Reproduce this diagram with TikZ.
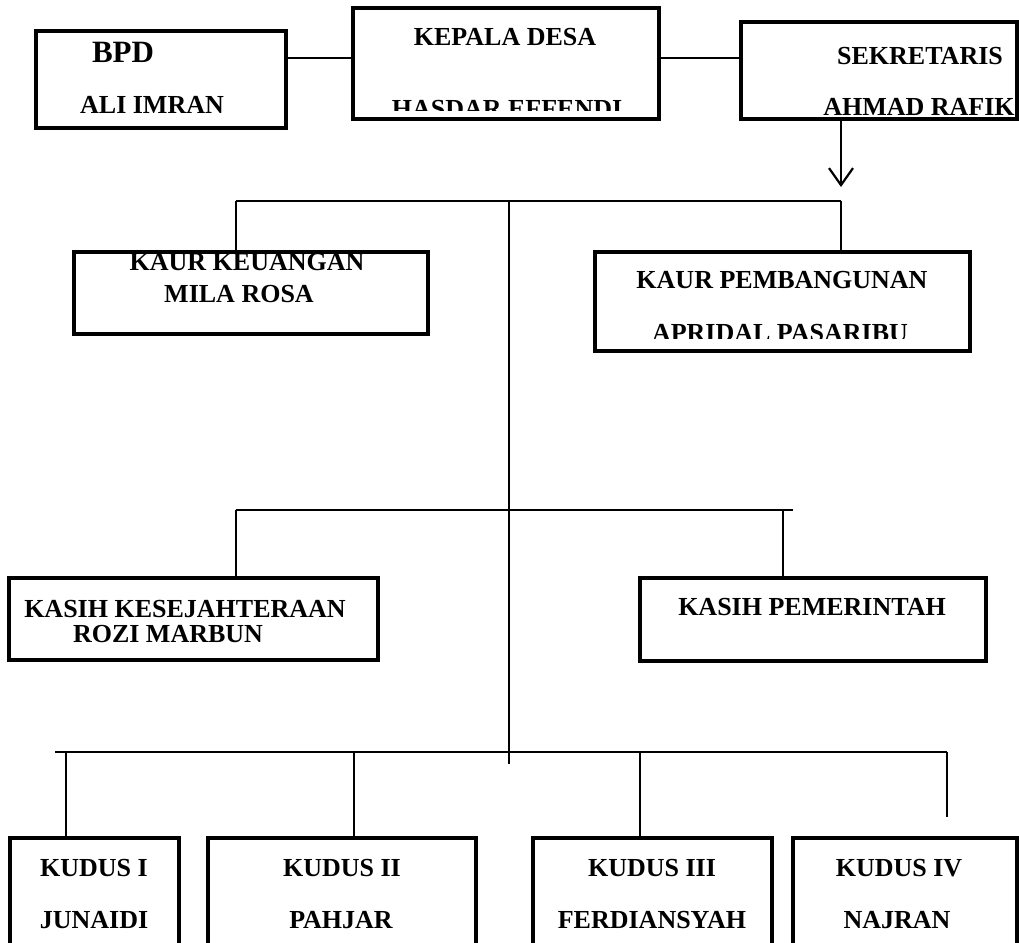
\documentclass[tikz,border=0pt]{standalone}
\usepackage{fontspec}
\setmainfont{Liberation Serif}
\usetikzlibrary{positioning, arrows.meta}

\tikzset{
  kotak/.style={draw, line width=3.3pt, inner sep=0pt},
  teks/.style={font=\bfseries\fontsize{26}{30}\selectfont, inner sep=0pt, anchor=base},
  garis/.style={line width=1.4pt},
  panah/.style={line width=2.2pt, -{Straight Barb[length=17pt, width=24pt, line width=2.2pt]}}
}

\begin{document}
\begin{tikzpicture}[x=1pt, y=-1pt]
        \clip (0,0) rectangle (1019,942);

        % Kotak jabatan
        \node[kotak, minimum width=250, minimum height=97] (bpd) at (161,79.5) {};
        \node[kotak, minimum width=306, minimum height=111] (kades) at (506,63.5) {};
        \node[kotak, minimum width=276, minimum height=97] (sekdes) at (879,70.5) {};
        \node[kotak, minimum width=354, minimum height=82] (keu) at (251,293) {};
        \node[kotak, minimum width=375, minimum height=99] (pemb) at (782.5,301.5) {};
        \node[kotak, minimum width=369, minimum height=82] (kesra) at (193.5,619) {};
        \node[kotak, minimum width=346, minimum height=83] (pem) at (813,619.5) {};
        \node[kotak, minimum width=169, minimum height=162] (k1) at (94.5,919) {};
        \node[kotak, minimum width=268, minimum height=162] (k2) at (342,919) {};
        \node[kotak, minimum width=239, minimum height=162] (k3) at (652.5,919) {};
        \node[kotak, minimum width=224, minimum height=162] (k4) at (905,919) {};

        % Teks
        \node[teks, font=\bfseries\fontsize{31}{34}\selectfont] (tbpd) at (123,63) {BPD};
        \node[teks] (tali) at (152,113) {ALI IMRAN};
        \node[teks] (tkades) at (505,46) {KEPALA DESA};
        \begin{scope}
          \clip (380,90) rectangle (640,110);
          \node[teks] (thasdar) at (507,117) {HASDAR EFFENDI};
        \end{scope}
        \node[teks] (tsek) at (920,64) {SEKRETARIS};
        \node[teks] (tahmad) at (919,115) {AHMAD RAFIK};
        \begin{scope}
          \clip (100,254) rectangle (400,285);
          \node[teks] (tkeu) at (247,270) {KAUR KEUANGAN};
        \end{scope}
        \node[teks] (tmila) at (239,302) {MILA ROSA};
        \node[teks] (tpemb) at (782,288) {KAUR PEMBANGUNAN};
        \begin{scope}
          \clip (620,315) rectangle (940,338);
          \node[teks] (tapri) at (780,341) {APRIDAL PASARIBU};
        \end{scope}
        \node[teks] (tkesra) at (185,617) {KASIH KESEJAHTERAAN};
        \node[teks] (trozi) at (168,642) {ROZI MARBUN};
        \node[teks] (tpem) at (812,615) {KASIH PEMERINTAH};
        \node[teks] (tk1) at (94,876) {KUDUS I};
        \node[teks] (tjun) at (94,928) {JUNAIDI};
        \node[teks] (tk2) at (342,876) {KUDUS II};
        \node[teks] (tpah) at (341,928) {PAHJAR};
        \node[teks] (tk3) at (652,876) {KUDUS III};
        \node[teks] (tfer) at (652,928) {FERDIANSYAH};
        \node[teks] (tk4) at (899,876) {KUDUS IV};
        \node[teks] (tnaj) at (897,928) {NAJRAN};

        % Titik cabang
        \coordinate (b1a) at (236,201);
        \coordinate (b1b) at (841,201);
        \coordinate (t1) at (509,201);
        \coordinate (t2) at (509,764);
        \coordinate (b2a) at (236,510);
        \coordinate (b2b) at (793,510);
        \coordinate (b2c) at (783,510);
        \coordinate (b3a) at (55,752);
        \coordinate (b3b) at (947,752);
        \coordinate (d1) at (66,752);
        \coordinate (d2) at (354,752);
        \coordinate (d3) at (640,752);
        \coordinate (d4) at (947,817);
        \coordinate (ujung) at (841,187);

        % Garis
        \draw[garis] ([yshift=5.5pt]kades.west) -- ([yshift=5.5pt]kades.west -| bpd.east);
        \draw[garis] ([yshift=5.5pt]kades.east) -- ([yshift=5.5pt]kades.east -| sekdes.west);
        \draw[panah] (sekdes.south -| ujung) -- (ujung);

        \draw[garis] (b1a) -- (b1b);
        \draw[garis] (t1) -- (t2);
        \draw[garis] (b1a) -- (keu.north -| b1a);
        \draw[garis] (b1b) -- (pemb.north -| b1b);

        \draw[garis] (b2a) -- (b2b);
        \draw[garis] (b2a) -- (kesra.north -| b2a);
        \draw[garis] (b2c) -- (pem.north -| b2c);

        \draw[garis] (b3a) -- (b3b);
        \foreach \d/\k in {d1/k1, d2/k2, d3/k3}
          \draw[garis] (\d) -- (\k.north -| \d);
        \draw[garis] (b3b) -- (d4);
      \end{tikzpicture}
\end{document}
